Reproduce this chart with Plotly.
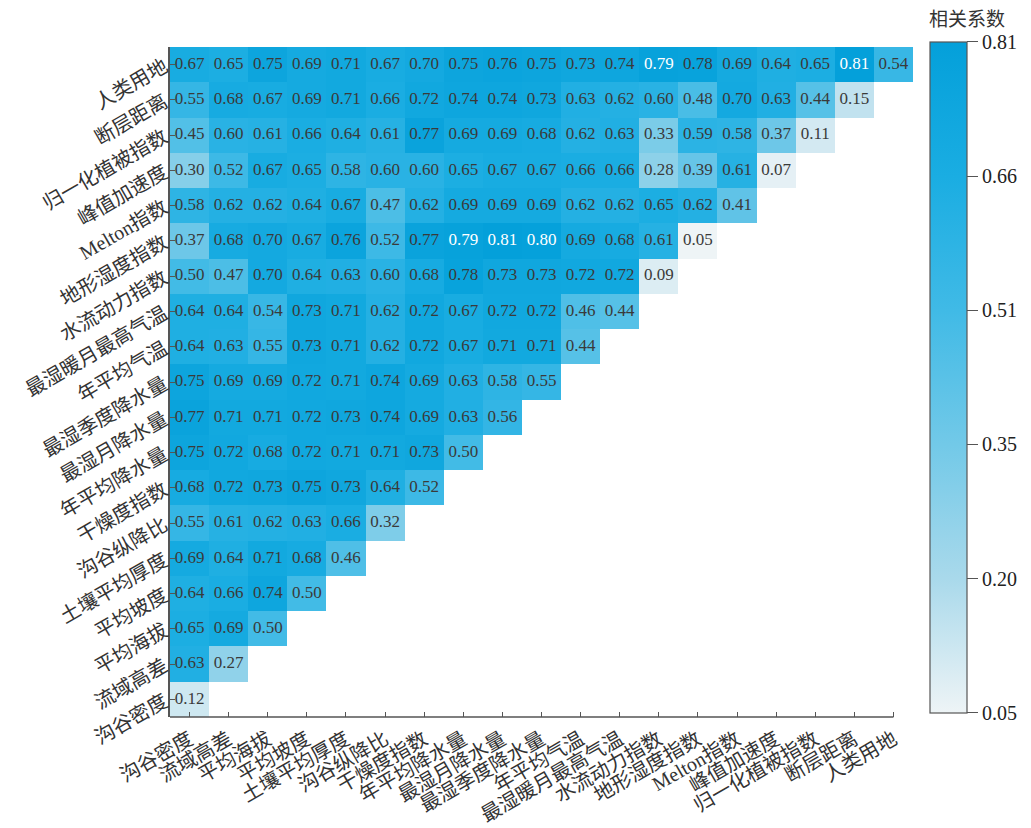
import plotly.graph_objects as go

labels = ["沟谷密度", "流域高差", "平均海拔", "平均坡度", "土壤平均厚度", "沟谷纵降比",
          "干燥度指数", "年平均降水量", "最湿月降水量", "最湿季度降水量", "年平均气温",
          "最湿暖月最高气温", "水流动力指数", "地形湿度指数", "Melton指数", "峰值加速度",
          "归一化植被指数", "断层距离", "人类用地"]

# rows listed bottom (沟谷密度) to top (人类用地)
row_gouguimidu = [0.12]
row_liuyugaocha = [0.63, 0.27]
row_pingjunhaiba = [0.65, 0.69, 0.50]
row_pingjunpodu = [0.64, 0.66, 0.74, 0.50]
row_turanghoudu = [0.69, 0.64, 0.71, 0.68, 0.46]
row_zongjiangbi = [0.55, 0.61, 0.62, 0.63, 0.66, 0.32]
row_ganzaodu = [0.68, 0.72, 0.73, 0.75, 0.73, 0.64, 0.52]
row_nianjiangshui = [0.75, 0.72, 0.68, 0.72, 0.71, 0.71, 0.73, 0.50]
row_zuishiyue = [0.77, 0.71, 0.71, 0.72, 0.73, 0.74, 0.69, 0.63, 0.56]
row_zuishiji = [0.75, 0.69, 0.69, 0.72, 0.71, 0.74, 0.69, 0.63, 0.58, 0.55]
row_nianqiwen = [0.64, 0.63, 0.55, 0.73, 0.71, 0.62, 0.72, 0.67, 0.71, 0.71, 0.44]
row_zuigaoqiwen = [0.64, 0.64, 0.54, 0.73, 0.71, 0.62, 0.72, 0.67, 0.72, 0.72, 0.46, 0.44]
row_shuiliu = [0.50, 0.47, 0.70, 0.64, 0.63, 0.60, 0.68, 0.78, 0.73, 0.73, 0.72, 0.72, 0.09]
row_dixingshidu = [0.37, 0.68, 0.70, 0.67, 0.76, 0.52, 0.77, 0.79, 0.81, 0.80, 0.69, 0.68, 0.61, 0.05]
row_melton = [0.58, 0.62, 0.62, 0.64, 0.67, 0.47, 0.62, 0.69, 0.69, 0.69, 0.62, 0.62, 0.65, 0.62, 0.41]
row_fengzhi = [0.30, 0.52, 0.67, 0.65, 0.58, 0.60, 0.60, 0.65, 0.67, 0.67, 0.66, 0.66, 0.28, 0.39, 0.61, 0.07]
row_ndvi = [0.45, 0.60, 0.61, 0.66, 0.64, 0.61, 0.77, 0.69, 0.69, 0.68, 0.62, 0.63, 0.33, 0.59, 0.58, 0.37, 0.11]
row_duanceng = [0.55, 0.68, 0.67, 0.69, 0.71, 0.66, 0.72, 0.74, 0.74, 0.73, 0.63, 0.62, 0.60, 0.48, 0.70, 0.63, 0.44, 0.15]
row_renlei = [0.67, 0.65, 0.75, 0.69, 0.71, 0.67, 0.70, 0.75, 0.76, 0.75, 0.73, 0.74, 0.79, 0.78, 0.69, 0.64, 0.65, 0.81, 0.54]

cbar_vals = [0.05, 0.202, 0.354, 0.506, 0.658, 0.81]
cbar_text = ["0.05", "0.20", "0.35", "0.51", "0.66", "0.81"]

rows = [row_gouguimidu, row_liuyugaocha, row_pingjunhaiba, row_pingjunpodu, row_turanghoudu,
        row_zongjiangbi, row_ganzaodu, row_nianjiangshui, row_zuishiyue, row_zuishiji,
        row_nianqiwen, row_zuigaoqiwen, row_shuiliu, row_dixingshidu, row_melton,
        row_fengzhi, row_ndvi, row_duanceng, row_renlei]

n = len(labels)
z = []
for r in rows:
    z.append(list(r) + [None] * (n - len(r)))

tx, ty, tt, tc = [], [], [], []
for i, r in enumerate(rows):
    for j, v in enumerate(r):
        tx.append(labels[j])
        ty.append(labels[i])
        tt.append(f"{v:.2f}")
        tc.append("white" if v >= 0.79 else "#3a3a3a")

colorscale = [
    [0.0, "#eef4f6"],
    [0.2, "#a9d9eb"],
    [0.4, "#72c9e8"],
    [0.6, "#40bae6"],
    [0.8, "#1aade2"],
    [1.0, "#04a0da"],
]

serif = "Liberation Serif, Noto Sans CJK SC, serif"

fig = go.Figure()
fig.add_trace(go.Heatmap(
    z=z, x=labels, y=labels, zmin=0.05, zmax=0.81,
    colorscale=colorscale, hoverongaps=False, xgap=0, ygap=0,
    colorbar=dict(
        x=1.0229, xanchor="left", y=0.507, yanchor="middle",
        len=1.0015, lenmode="fraction", thickness=37, thicknessmode="pixels",
        xpad=0, ypad=0,
        outlinecolor="#555", outlinewidth=1.2,
        tickvals=cbar_vals, ticktext=cbar_text,
        ticks="outside", ticklen=11, tickcolor="#555", tickwidth=1.2,
        tickfont=dict(family=serif, size=20, color="#222"),
    ),
))
fig.add_trace(go.Scatter(
    x=tx, y=ty, mode="text", text=tt,
    textfont=dict(family=serif, size=17, color=tc),
    hoverinfo="skip", showlegend=False,
))

axis_common = dict(
    type="category", categoryorder="array", categoryarray=labels,
    ticks="inside", ticklen=5, tickcolor="#555", tickwidth=1.2,
    tickangle=-30, showgrid=False, zeroline=False,
    tickfont=dict(family=serif, size=20, color="#333"),
    range=[-0.5, n - 0.5], automargin=False,
)
fig.update_xaxes(**axis_common, showline=False, ticklabelstandoff=6)
fig.update_yaxes(**axis_common, showline=True, linecolor="#555", linewidth=1.5)

fig.add_shape(type="line", xref="x", yref="paper", x0=-0.5, x1=n - 1, y0=0, y1=0,
              line=dict(color="#555", width=1.5))

fig.add_annotation(text="相关系数", xref="paper", yref="paper", x=1.073, y=1.044,
                   xanchor="center", yanchor="middle", showarrow=False,
                   font=dict(family="Noto Sans CJK SC", size=19, color="#333"))

fig.update_layout(
    width=1031, height=828,
    margin=dict(l=170, r=118, t=47, b=111, autoexpand=False),
    plot_bgcolor="white", paper_bgcolor="white",
    showlegend=False,
)

fig.write_html("out.html")
